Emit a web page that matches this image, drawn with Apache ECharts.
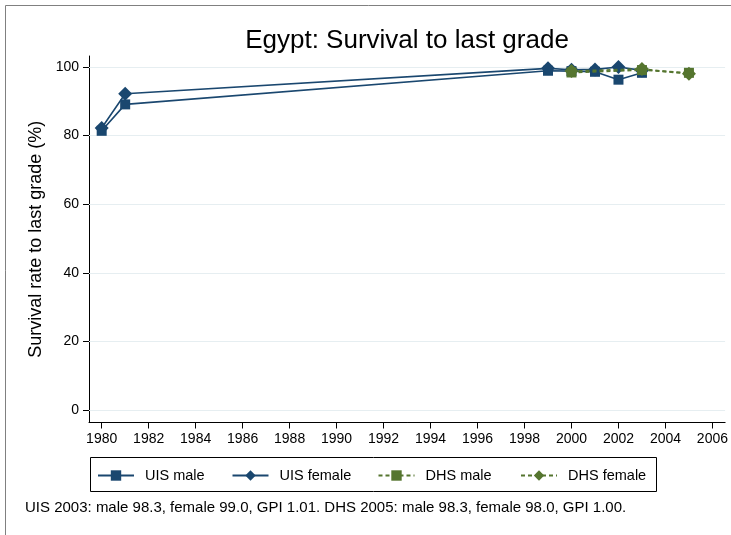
<!DOCTYPE html>
<html>
<head>
<meta charset="utf-8">
<script src="https://cdn.jsdelivr.net/npm/echarts@6/dist/echarts.min.js"></script>
<style>
  html, body { margin: 0; padding: 0; background: #fff; }
  #chart { width: 731px; height: 535px; }
</style>
</head>
<body>
<div id="chart"></div>
<script>
// data
const uisYears = [1980, 1981, 1999, 2000, 2001, 2002, 2003]
const uisMale = [81.4, 89.1, 98.9, 98.8, 98.6, 96.3, 98.3]
const uisFemale = [82.2, 92.2, 99.6, 99.2, 99.3, 100.0, 99.0]
const dhsYears = [2000, 2003, 2005]
const dhsMale = [98.4, 99.1, 98.3]
const dhsFemale = [98.8, 99.4, 98.0]
const xTicks = [1980, 1982, 1984, 1986, 1988, 1990, 1992, 1994, 1996, 1998, 2000, 2002, 2004, 2006]
const yTicks = [0, 20, 40, 60, 80, 100]
const noteText = 'UIS 2003: male 98.3, female 99.0, GPI 1.01. DHS 2005: male 98.3, female 98.0, GPI 1.00.'

const navy = '#1a476f'
const green = '#55752f'
const font = "'Liberation Sans', Arial, Helvetica, sans-serif"

const pairs = (xs, ys) => xs.map((x, i) => [x, ys[i]])

const chart = echarts.init(document.getElementById('chart'), null, { renderer: 'canvas' })

function legendItem(name, left) {
    return {
        data: [name],
        left: left,
        top: 468,
        padding: 0,
        itemWidth: 36,
        itemHeight: 13,
        selectedMode: false,
        textStyle: { fontFamily: font, fontSize: 14.5, color: '#000', padding: [0, 0, 0, 6] }
    }
}

const option = {
    animation: false,
    backgroundColor: '#fff',
    title: {
        text: 'Egypt: Survival to last grade',
        left: 407,
        textAlign: 'center',
        top: 28,
        padding: 0,
        textStyle: { fontFamily: font, fontSize: 26, fontWeight: 'normal', color: '#000' }
    },
    grid: { left: 89, right: 5.4, top: 56, bottom: 112.5 },
    legend: [
        legendItem('UIS male', 97),
        legendItem('UIS female', 231.5),
        legendItem('DHS male', 377.5),
        legendItem('DHS female', 520)
    ],
    xAxis: {
        type: 'value',
        min: 1979.46,
        max: 2006.54,
        axisLine: { show: true, onZero: false, lineStyle: { color: '#000', width: 1 } },
        axisTick: { show: true, length: 6, customValues: xTicks, lineStyle: { color: '#000' } },
        axisLabel: {
            customValues: xTicks, margin: 10, fontFamily: font, fontSize: 14, color: '#000',
            formatter: v => String(v)
        },
        splitLine: { show: false }
    },
    yAxis: {
        type: 'value',
        min: -3.6,
        max: 103.2,
        name: 'Survival rate to last grade (%)',
        nameLocation: 'middle',
        nameGap: 43,
        nameTextStyle: { fontFamily: font, fontSize: 18, color: '#000' },
        axisLine: { show: true, lineStyle: { color: '#000', width: 1 } },
        axisTick: { show: true, length: 6, customValues: yTicks, lineStyle: { color: '#000' } },
        axisLabel: { customValues: yTicks, margin: 10, fontFamily: font, fontSize: 14, color: '#000' },
        splitLine: { show: false }
    },
    series: [
        {
            name: 'UIS male',
            type: 'line',
            data: pairs(uisYears, uisMale),
            symbol: 'rect',
            symbolSize: 10,
            color: navy,
            lineStyle: { color: navy, width: 1.6 },
            itemStyle: { color: navy },
            z: 3,
            markLine: {
                silent: true,
                symbol: 'none',
                label: { show: false },
                lineStyle: { color: '#e6eef1', width: 1, type: 'solid' },
                z: 1,
                data: yTicks.map(v => ({ yAxis: v }))
            }
        },
        {
            name: 'UIS female',
            type: 'line',
            data: pairs(uisYears, uisFemale),
            symbol: 'diamond',
            symbolSize: 14,
            color: navy,
            lineStyle: { color: navy, width: 1.6 },
            itemStyle: { color: navy },
            z: 4
        },
        {
            name: 'DHS male',
            type: 'line',
            data: pairs(dhsYears, dhsMale),
            symbol: 'rect',
            symbolSize: 10,
            color: green,
            lineStyle: { color: green, width: 1.8, type: [4, 3] },
            itemStyle: { color: green },
            z: 5
        },
        {
            name: 'DHS female',
            type: 'line',
            data: pairs(dhsYears, dhsFemale),
            symbol: 'diamond',
            symbolSize: 14,
            color: green,
            lineStyle: { color: green, width: 1.8, type: [4, 3] },
            itemStyle: { color: green },
            z: 6
        }
    ],
    graphic: [
        {
            type: 'rect',
            shape: { x: 5.5, y: 5.5, width: 800, height: 600 },
            style: { fill: null, stroke: '#808080', lineWidth: 1 },
            silent: true,
            z: -1
        },
        {
            type: 'rect',
            shape: { x: 90.5, y: 457.5, width: 566, height: 34 },
            style: { fill: null, stroke: '#000', lineWidth: 1 },
            silent: true
        },
        {
            type: 'text',
            left: 25,
            top: 500,
            style: { text: noteText, font: '15px ' + font, fill: '#000' },
            silent: true
        }
    ]
}

chart.setOption(option)
</script>
</body>
</html>
